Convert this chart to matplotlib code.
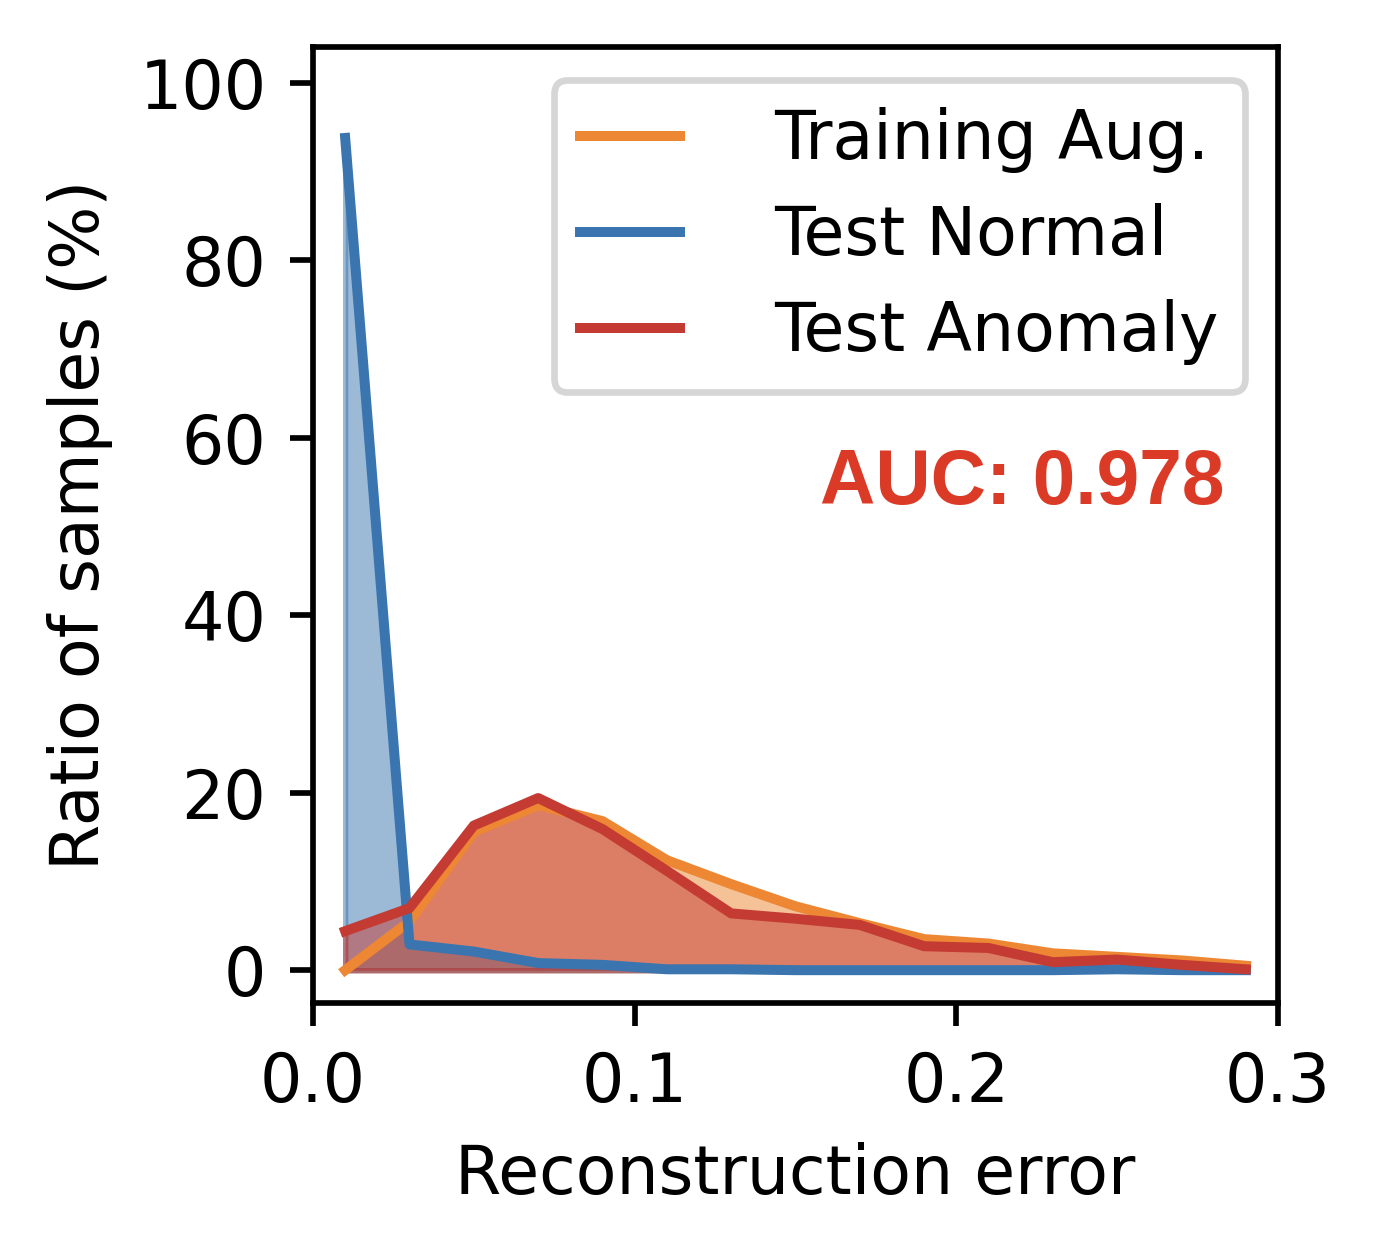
import numpy as np
import matplotlib
matplotlib.use("Agg")
import matplotlib.pyplot as plt

# bin centres of the reconstruction error histogram
err = [0.01, 0.03, 0.05, 0.07, 0.09, 0.11, 0.13, 0.15, 0.17, 0.19, 0.21, 0.23, 0.25, 0.27, 0.29]

train_aug = [0.0, 5.5, 15.6, 18.6, 16.8, 12.4, 9.7, 7.2, 5.3, 3.5, 3.0, 1.9, 1.5, 1.1, 0.5]
test_normal = [93.8, 2.9, 2.1, 0.8, 0.6, 0.1, 0.1, 0.0, 0.0, 0.0, 0.0, 0.0, 0.1, 0.0, 0.0]
test_anomaly = [4.4, 7.0, 16.3, 19.4, 15.9, 11.2, 6.4, 5.8, 5.1, 2.7, 2.5, 0.9, 1.2, 0.6, 0.1]

labels = ["Training Aug.", "Test Normal", "Test Anomaly"]
colors = ["#ED8733", "#3A75AF", "#C43B33"]
auc_text = "AUC: 0.978"

plt.rcParams.update({'font.size': 10, 'axes.linewidth': 0.85})

fig = plt.figure(figsize=(1380 / 480, 1256 / 480), dpi=480)
ax = fig.add_axes([313 / 1380, 1 - 1003 / 1256, 965 / 1380, 956 / 1256])

series = [train_aug, test_normal, test_anomaly]
for s, c in zip(series, colors):
    ax.fill_between(err, 0, s, color=c, alpha=0.5, linewidth=0.8)
for s, c, lab in zip(series, colors, labels):
    ax.plot(err, s, color=c, lw=1.5, label=lab)

ax.set_xlim(0, 0.3)
ax.set_ylim(-3.7, 104.05)
ax.set_xticks([0.0, 0.1, 0.2, 0.3])
ax.set_yticks([0, 20, 40, 60, 80, 100])
ax.tick_params(length=3.5, width=0.85)
ax.set_xlabel("Reconstruction error")
ax.set_ylabel("Ratio of samples (%)")

ax.legend(loc='upper right', handlelength=1.5, handletextpad=1.4, labelspacing=0.45)

ax.text(0.945, 0.522, auc_text, transform=ax.transAxes, ha='right', va='baseline',
        fontsize=11.5, fontweight='bold', family='Liberation Sans', color='#DB3B26')

fig.savefig("out.png", dpi=480)
